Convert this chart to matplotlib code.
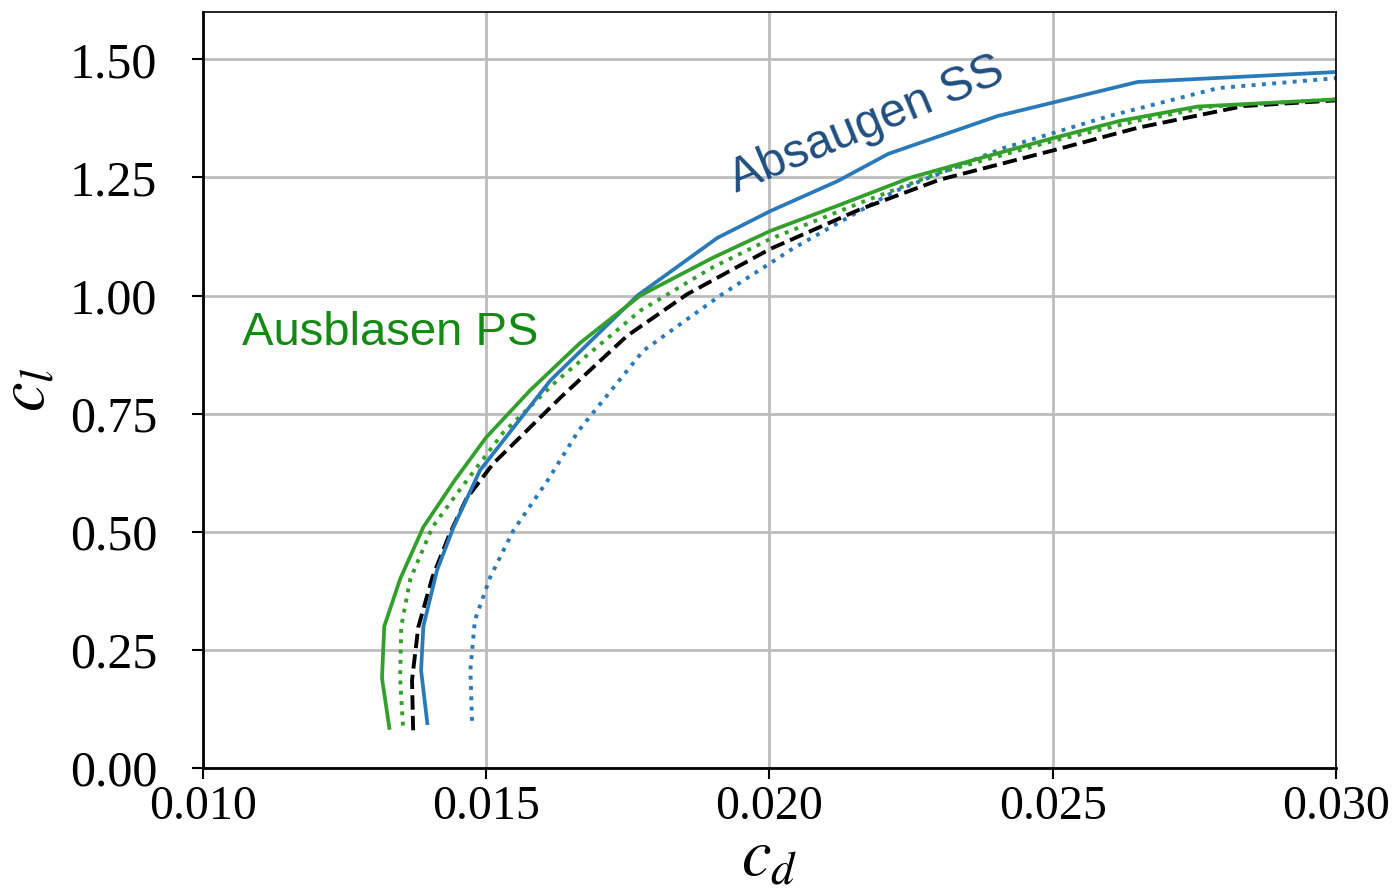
import matplotlib
matplotlib.use("Agg")
import matplotlib.pyplot as plt

# --- Polar data (cd, cl) ---
# Ausblasen PS, solid green
cd_blow = [0.01329, 0.01316, 0.01320, 0.01348, 0.01389, 0.01445, 0.01500, 0.01578,
           0.01666, 0.01772, 0.01900, 0.02002, 0.02120, 0.02250, 0.02400, 0.02500,
           0.02620, 0.02756, 0.03000]
cl_blow = [0.085, 0.19, 0.30, 0.40, 0.51, 0.61, 0.70, 0.80,
           0.90, 1.00, 1.08, 1.137, 1.19, 1.25, 1.30, 1.333,
           1.37, 1.40, 1.415]

# Ausblasen PS, dotted green
cd_blow_dot = [0.01353, 0.01348, 0.01350, 0.01366, 0.01405, 0.01454, 0.01530, 0.01625,
               0.01772, 0.01900, 0.02002, 0.02160, 0.02300, 0.02500, 0.02650, 0.02780,
               0.03000]
cl_blow_dot = [0.09, 0.19, 0.30, 0.40, 0.51, 0.59, 0.71, 0.82,
               0.968, 1.06, 1.12, 1.196, 1.26, 1.327, 1.37, 1.40,
               1.415]

# Absaugen SS, solid blue
cd_suck = [0.01396, 0.01385, 0.01389, 0.01413, 0.01442, 0.01489, 0.01613, 0.01767,
           0.01908, 0.02002, 0.02120, 0.02210, 0.02403, 0.02650, 0.03000]
cl_suck = [0.095, 0.207, 0.30, 0.418, 0.509, 0.63, 0.82, 1.00,
           1.122, 1.179, 1.242, 1.30, 1.38, 1.452, 1.473]

# Absaugen SS, dotted blue
cd_suck_dot = [0.01475, 0.01472, 0.01480, 0.01507, 0.01548, 0.01608, 0.01663, 0.01777,
               0.01913, 0.02042, 0.02220, 0.02413, 0.02600, 0.02792, 0.03000]
cl_suck_dot = [0.10, 0.207, 0.313, 0.404, 0.503, 0.608, 0.714, 0.883,
               1.00, 1.10, 1.22, 1.312, 1.38, 1.439, 1.46]

# Reference, dashed black
cd_ref = [0.01371, 0.01369, 0.01380, 0.01405, 0.01436, 0.01465, 0.01512, 0.01631,
          0.01749, 0.01855, 0.02002, 0.02161, 0.02300, 0.02497, 0.02650, 0.02837,
          0.03000]
cl_ref = [0.08, 0.186, 0.298, 0.404, 0.497, 0.57, 0.644, 0.784,
          0.915, 1.003, 1.099, 1.183, 1.245, 1.306, 1.355, 1.401,
          1.413]

x_ticks = [0.010, 0.015, 0.020, 0.025, 0.030]
y_ticks = [0.00, 0.25, 0.50, 0.75, 1.00, 1.25, 1.50]

plt.rcParams["font.family"] = ["Liberation Serif", "DejaVu Serif"]
plt.rcParams["mathtext.fontset"] = "stix"

fig = plt.figure(figsize=(13.96, 8.9), dpi=100)
ax = fig.add_axes([0.1454, 0.137, 0.8116, 0.8495])

blue = "#2a7ab9"
green = "#33a02c"
ax.plot(cd_suck_dot, cl_suck_dot, color=blue, linestyle=":", linewidth=2.8)
ax.plot(cd_blow_dot, cl_blow_dot, color=green, linestyle=":", linewidth=2.8)
ax.plot(cd_ref, cl_ref, color="black", linestyle="--", linewidth=2.8)
ax.plot(cd_suck, cl_suck, color=blue, linewidth=2.7)
ax.plot(cd_blow, cl_blow, color=green, linewidth=2.7)

ax.text(0.01069, 0.92, "Ausblasen PS", color="#138a13", fontsize=34,
        family="Liberation Sans", ha="left", va="center")
ax.text(0.02171, 1.36, "Absaugen SS", color="#1f4e80", fontsize=34.5,
        family="Liberation Sans", ha="center", va="center", rotation=22.5)

ax.set_xlim(0.010, 0.030)
ax.set_ylim(0.0, 1.6)
ax.set_xticks(x_ticks)
ax.set_xticklabels([f"{t:.3f}" for t in x_ticks])
ax.set_yticks(y_ticks)
ax.set_yticklabels([f"{t:.2f}" for t in y_ticks])
ax.tick_params(length=8, width=1.5, direction="out")
ax.tick_params(axis="x", labelsize=34.5, pad=4)
ax.tick_params(axis="y", labelsize=36, pad=25)
ax.grid(True, color="#bdbdbd", linewidth=2.0)
ax.set_axisbelow(True)
for side in ["left", "bottom"]:
    ax.spines[side].set_linewidth(2.0)
for side in ["top", "right"]:
    ax.spines[side].set_linewidth(1.2)

ax.set_xlabel(r"$c_d$", fontsize=48, labelpad=0)
ax.set_ylabel(r"$c_l$", fontsize=48, labelpad=8)

fig.savefig("out.png", dpi=100)
